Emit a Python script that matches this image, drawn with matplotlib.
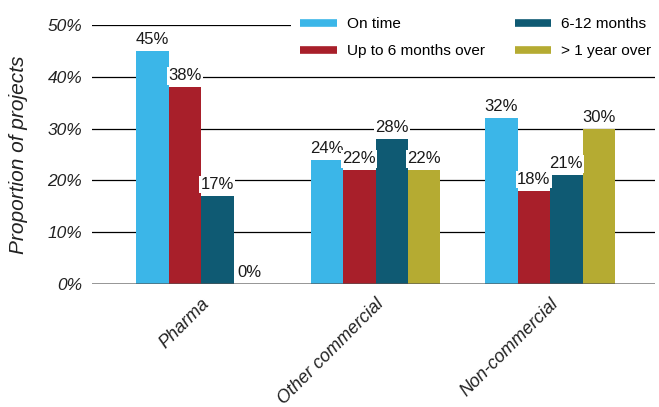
"""
Project delivery by sponsor type.
Grouped bar chart of the share of projects finishing on time or late.
"""

import numpy as np
import matplotlib
matplotlib.use("Agg")
import matplotlib.pyplot as plt
from matplotlib.lines import Line2D

plt.rcParams["font.family"] = ["Liberation Sans", "DejaVu Sans"]

# Sponsor groups on the x axis
SECTORS = ["Pharma", "Other commercial", "Non-commercial"]

# Share of projects (%) per delay bucket
ON_TIME      = [45, 24, 32]
UP_TO_6      = [38, 22, 18]
SIX_TO_12    = [17, 28, 21]
OVER_ONE_YR  = [0, 22, 30]

SERIES_NAMES = ["On time", "Up to 6 months over", "6-12 months", "> 1 year over"]
COLORS = ["#3bb6e8", "#a81f2a", "#0f5a73", "#b5ab32"]

Y_TICKS = [0, 10, 20, 30, 40, 50]


def draw_bars(ax):
    """Four bars per sector, with a value label above each one."""
    series = [ON_TIME, UP_TO_6, SIX_TO_12, OVER_ONE_YR]
    x = np.arange(len(SECTORS))
    width = 0.186

    for i, (vals, color) in enumerate(zip(series, COLORS)):
        pos = x + (i - 1.5) * width
        ax.bar(pos, vals, width=width, color=color, zorder=3)
        for xp, v in zip(pos, vals):
            ax.annotate(f"{v}%", (xp, v), xytext=(0, 5),
                        textcoords="offset points", ha="center",
                        va="baseline", fontsize=12, color="#1a1a1a",
                        zorder=4,
                        bbox=dict(boxstyle="square,pad=0.08",
                                  facecolor="white", edgecolor="none"))
    return x


def style_axes(ax, x):
    ax.set_ylim(0, 50)
    ax.set_xlim(-0.625, 2.6)
    ax.set_yticks(Y_TICKS)
    ax.set_yticklabels([f"{t}%" for t in Y_TICKS], fontsize=12.5,
                       style="italic", color="#222222")
    ax.set_xticks(x)
    ax.set_xticklabels(SECTORS, rotation=45, ha="right", va="top",
                       rotation_mode="anchor", fontsize=13,
                       style="italic", color="#222222")
    ax.tick_params(axis="both", length=0)
    ax.tick_params(axis="y", pad=7)
    ax.tick_params(axis="x", pad=8)

    for t in Y_TICKS[1:]:
        ax.axhline(t, color="black", lw=0.9, zorder=1)
    ax.axhline(0, color="#555555", lw=1.8, alpha=0.8, zorder=5)

    for side in ["top", "right", "left", "bottom"]:
        ax.spines[side].set_visible(False)

    ax.set_ylabel("Proportion of projects", fontsize=15, style="italic",
                  color="#222222", labelpad=14)


def add_legend(ax):
    handles = [Line2D([0], [0], color=c, lw=5.5, solid_capstyle="butt")
               for c in COLORS]
    leg = ax.legend(handles, SERIES_NAMES, ncol=2, fontsize=11.1,
                    loc="upper left", bbox_to_anchor=(0.34, 1.097),
                    handlelength=2.35, handletextpad=0.65,
                    columnspacing=1.95, labelspacing=0.88,
                    borderpad=0.6, frameon=True, fancybox=False)
    frame = leg.get_frame()
    frame.set_facecolor("white")
    frame.set_edgecolor("none")
    frame.set_alpha(1)
    leg.set_zorder(6)


def main():
    fig = plt.figure(figsize=(6.59, 4.07), dpi=100)
    ax = fig.add_axes([0.1396, 0.302, 0.854, 0.6364])
    x = draw_bars(ax)
    style_axes(ax, x)
    add_legend(ax)
    fig.savefig("out.png", dpi=100)
    plt.close(fig)


if __name__ == "__main__":
    main()
